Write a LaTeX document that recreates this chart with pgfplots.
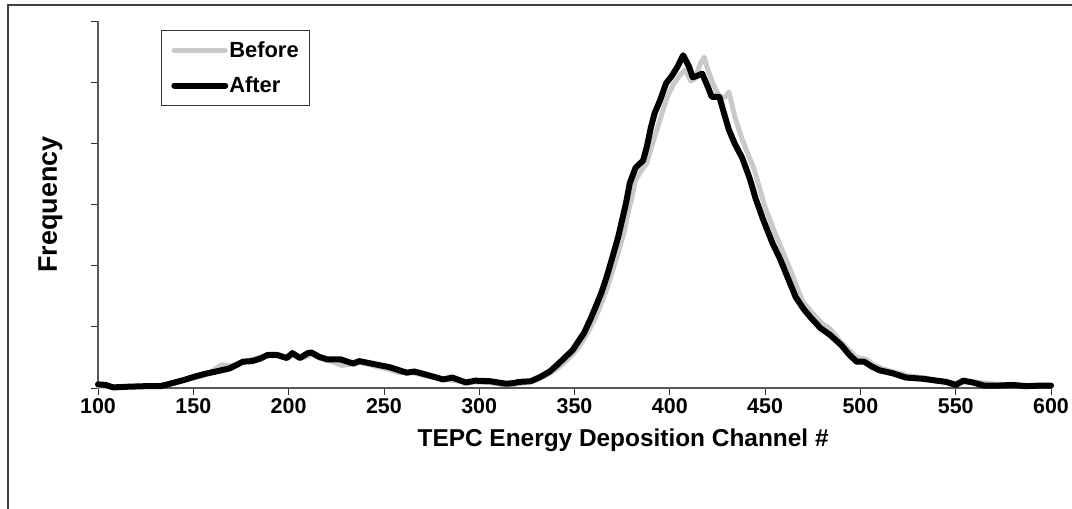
\documentclass[border=0pt]{standalone}
\usepackage{fontspec}
\setmainfont{Liberation Sans}
\usepackage{pgfplots}
\pgfplotsset{compat=1.18}

\begin{document}
\begin{tikzpicture}
\useasboundingbox (0bp,0bp) rectangle (1072bp,-509bp);
% outer chart-area frame
\draw[black!75, line width=1.3bp] (8bp,-509bp) -- (8bp,-5bp) -- (1072bp,-5bp);

\begin{axis}[
  at={(98bp,-388bp)}, anchor=south west,
  scale only axis, width=953bp, height=367bp,
  xmin=100, xmax=600, ymin=0, ymax=6,
  axis x line=bottom, axis y line=left,
  axis line style={-, gray!70!black, line width=1.1bp},
  xtick={100,150,...,600}, ytick={0,1,...,6}, yticklabels={},
  tick align=outside, major tick length=7bp,
  tick style={black!80, line width=0.8bp},
  /pgf/number format/assume math mode=true,
  /pgf/number format/1000 sep={},
  ticklabel style={font=\fontsize{21.5}{24}\selectfont\bfseries},
  xticklabel style={yshift=0bp},
  xlabel={TEPC Energy Deposition Channel \#},
  ylabel={Frequency},
  xlabel style={font=\fontsize{24.5}{28}\selectfont\bfseries, at={(axis description cs:0.551,-0.142)}, anchor=center},
  ylabel style={font=\fontsize{27}{30}\selectfont\bfseries, at={(axis description cs:-0.050,0.5)}, anchor=center},
  clip=false,
  legend style={at={(rel axis cs:0.066,0.975)}, anchor=north west,
    draw=black!80, line width=0.8bp, font=\fontsize{22}{25}\selectfont\bfseries,
    inner xsep=10bp, inner ysep=9bp, row sep=14bp,
    nodes={inner xsep=1bp}},
  legend cell align=left,
  legend image code/.code={\draw[#1] (0bp,0bp) -- (51bp,0bp);},
  every axis plot/.append style={line join=round, line cap=round},
]
\addplot[gray!42, line width=5bp] coordinates {
(100,0.03) (108,0.02) (120,0.03) (130,0.04) (137,0.06) (143,0.12) (150,0.16)
(155,0.20) (160,0.28) (165,0.38) (170,0.36) (176,0.42) (182,0.48) (188,0.52)
(193,0.53) (198,0.50) (203,0.54) (208,0.50) (212,0.55) (217,0.48) (222,0.44)
(228,0.37) (233,0.39) (238,0.42) (245,0.36) (252,0.31) (258,0.25) (264,0.26)
(270,0.21) (278,0.17) (285,0.13) (292,0.10) (298,0.10) (305,0.09) (312,0.06)
(318,0.06) (324,0.09) (330,0.13) (335,0.20) (340,0.30) (344,0.40) (348,0.52)
(352,0.66) (355,0.80) (358,0.97) (361,1.15) (364,1.38) (367,1.62) (370,1.92)
(373,2.22) (376,2.55) (378,2.85) (380,3.10) (382,3.40) (385,3.55) (388,3.68)
(390,3.90) (393,4.20) (396,4.50) (399,4.78) (402,4.97) (405,5.10) (408,5.20)
(411,5.02) (413,5.05) (416,5.30) (418,5.41) (420,5.20) (423,4.95) (426,4.76)
(429,4.75) (431,4.84) (434,4.45) (437,4.15) (440,3.90) (444,3.60) (447,3.28)
(450,2.95) (455,2.55) (459,2.25) (463,1.95) (467,1.62) (470,1.40) (475,1.22)
(480,1.05) (484,0.97) (489,0.78) (494,0.62) (498,0.50) (503,0.47) (507,0.38)
(512,0.31) (518,0.26) (525,0.20) (533,0.17) (540,0.13) (546,0.09) (550,0.08)
(555,0.10) (560,0.10) (566,0.08) (572,0.06) (580,0.05) (590,0.04) (600,0.04)
};
\addlegendentry{Before}
\addplot[black, line width=6bp] coordinates {
(100,0.06) (104,0.05) (108,0.01) (115,0.02) (125,0.03) (133,0.03) (139,0.08)
(145,0.13) (150,0.18) (156,0.23) (162,0.27) (169,0.32) (176,0.43) (181,0.44)
(185,0.48) (189,0.54) (194,0.54) (199,0.49) (202,0.57) (206,0.49) (210,0.57)
(212,0.58) (216,0.51) (220,0.47) (227,0.47) (231,0.43) (234,0.40) (237,0.44)
(245,0.39) (253,0.34) (258,0.29) (262,0.25) (266,0.27) (272,0.22) (281,0.14)
(286,0.17) (293,0.09) (298,0.12) (306,0.11) (310,0.09) (314,0.07) (318,0.08)
(321,0.10) (327,0.11) (332,0.18) (337,0.27) (341,0.38) (345,0.50) (349,0.62)
(352,0.76) (355,0.90) (358,1.10) (361,1.32) (364,1.55) (367,1.83) (370,2.15)
(373,2.48) (375,2.75) (377,3.02) (379,3.35) (382,3.60) (386,3.72) (388,3.95)
(390,4.25) (392,4.49) (395,4.71) (398,4.98) (401,5.10) (404,5.25) (407,5.44)
(410,5.26) (412,5.08) (414,5.10) (417,5.14) (420,4.92) (422,4.76) (426,4.76)
(428,4.54) (431,4.22) (434,4.00) (438,3.76) (442,3.42) (445,3.10) (449,2.75)
(454,2.36) (458,2.10) (461,1.87) (466,1.49) (470,1.30) (474,1.15) (479,0.98)
(484,0.87) (490,0.70) (494,0.55) (498,0.43) (502,0.43) (506,0.35) (510,0.29)
(517,0.24) (524,0.17) (533,0.15) (540,0.12) (545,0.10) (550,0.05) (554,0.12)
(559,0.09) (565,0.04) (572,0.04) (580,0.05) (587,0.03) (594,0.04) (600,0.04)
};
\addlegendentry{After}
\end{axis}
\end{tikzpicture}
\end{document}
